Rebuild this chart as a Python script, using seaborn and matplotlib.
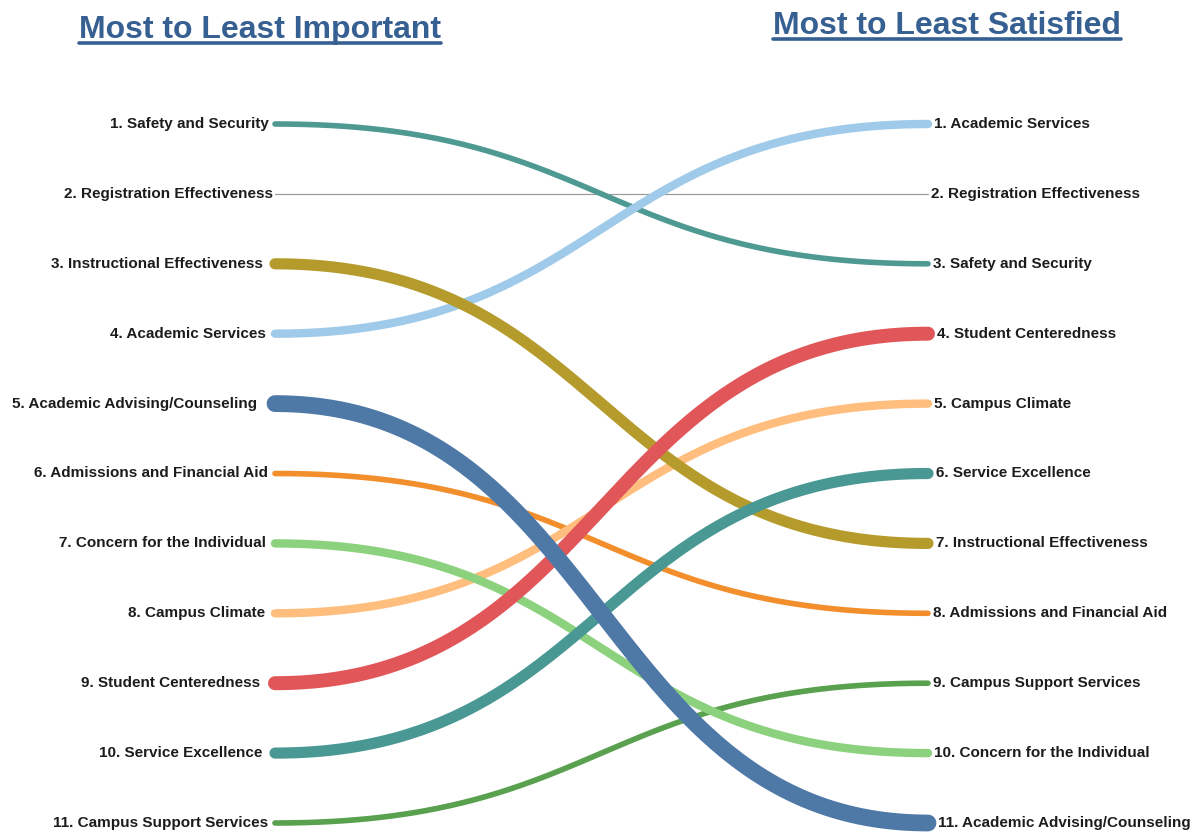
import numpy as np
import pandas as pd
import matplotlib.pyplot as plt
import seaborn as sns
from matplotlib.lines import Line2D

# rank order for each area: left = importance, right = satisfaction
areas = ['Safety and Security', 'Registration Effectiveness', 'Instructional Effectiveness',
         'Academic Services', 'Academic Advising/Counseling', 'Admissions and Financial Aid',
         'Concern for the Individual', 'Campus Climate', 'Student Centeredness',
         'Service Excellence', 'Campus Support Services']
importance_rank = [1, 2, 3, 4, 5, 6, 7, 8, 9, 10, 11]
satisfaction_rank = [3, 2, 7, 1, 11, 8, 10, 5, 4, 6, 9]
area_colors = ['#4e9a93', '#9a9a9a', '#b59b2c', '#9fcae9', '#4e79a7', '#f28e2b',
               '#8cd17d', '#ffbe7d', '#e15759', '#499894', '#59a14f']

sns.set_style('white')
plt.rcParams['font.family'] = ['Liberation Sans', 'DejaVu Sans']

fig = plt.figure(figsize=(12.01, 8.35), dpi=100)
ax = fig.add_axes([275 / 1201, 1 - 823 / 835, 653 / 1201, 699 / 835])
ax.set_xlim(0, 1)
ax.set_ylim(11, 1)
ax.axis('off')

t = np.linspace(0, 1, 200)
xs = 1.5 * t * (1 - t) + t ** 3
ease = 3 * t ** 2 - 2 * t ** 3

df = pd.DataFrame({'area': areas, 'left': importance_rank, 'right': satisfaction_rank,
                   'color': area_colors})
df['change'] = (df['left'] - df['right']).abs()
df['width_px'] = np.where(df['change'] == 0, 1.2, 2.8 * df['change'])

for _, row in df.sort_values('width_px').iterrows():
    curve = pd.DataFrame({'x': xs, 'y': row['left'] + (row['right'] - row['left']) * ease})
    sns.lineplot(data=curve, x='x', y='y', sort=False, estimator=None, ax=ax,
                 color=row['color'], linewidth=row['width_px'] * 0.72)
    ln = ax.lines[-1]
    ln.set_solid_capstyle('round')
    ln.set_clip_on(False)

label_kw = dict(fontsize=11, fontweight='bold', color='#1c1c1c', va='center',
                textcoords='offset points', annotation_clip=False)
for _, row in df.iterrows():
    left_gap = (1 + row['width_px']) * 0.72
    right_gap = (2 + row['width_px'] / 2) * 0.72
    ax.annotate(f"{row['left']}. {row['area']}", (0, row['left']), xytext=(-left_gap, 0),
                ha='right', **label_kw)
    ax.annotate(f"{row['right']}. {row['area']}", (1, row['right']), xytext=(right_gap, 0),
                ha='left', **label_kw)

title_color = '#376092'
title_specs = [('Most to Least Important', 260, 38), ('Most to Least Satisfied', 947, 34)]
for label, cx, base in title_specs:
    txt = fig.text(cx / 1201, 1 - base / 835, label, ha='center', va='baseline',
                   fontsize=23, fontweight='bold', color=title_color)
    fig.canvas.draw()
    bb = txt.get_window_extent(fig.canvas.get_renderer()).transformed(fig.transFigure.inverted())
    y_line = 1 - (base + 5) / 835
    fig.add_artist(Line2D([bb.x0, bb.x1], [y_line, y_line], transform=fig.transFigure,
                          color=title_color, linewidth=2.6))

fig.savefig('out.png', dpi=100)
